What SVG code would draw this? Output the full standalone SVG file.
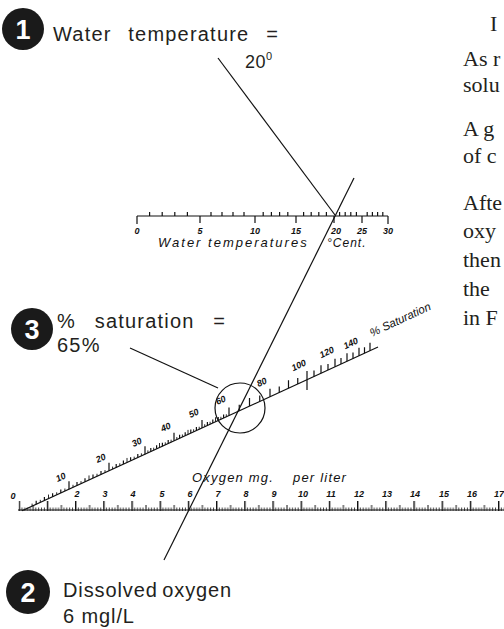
<svg xmlns="http://www.w3.org/2000/svg" width="504" height="629" viewBox="0 0 504 629">
<style>
.lbl{font-family:"Liberation Sans",Arial,sans-serif;font-size:20px;fill:#231f20;letter-spacing:1.2px;word-spacing:10px}
.num{font-family:"Liberation Sans",Arial,sans-serif;font-size:27px;font-weight:bold;fill:#fff;text-anchor:middle}
.badge{fill:#1a1a1a}
.hand{font-family:"Liberation Sans",Arial,sans-serif;font-style:italic;fill:#111}
.tk{font-family:"Liberation Sans",Arial,sans-serif;font-style:italic;font-weight:bold;font-size:9px;fill:#111;text-anchor:middle}
.ln{stroke:#111;fill:none;stroke-width:1.2}
.fine{stroke:#111;fill:none;stroke-width:0.9}
.body{font-family:"Liberation Serif","Times New Roman",serif;font-size:22px;fill:#231f20}
</style>
<defs>
<pattern id="oxt" patternUnits="userSpaceOnUse" x="18.6" y="500" width="28.2" height="11">
<rect x="0" y="1" width="1.4" height="10" fill="#111"/>
<rect x="14.1" y="5" width="1" height="6" fill="#111"/>
<rect x="2.82" y="7.5" width="0.8" height="3.5" fill="#111"/>
<rect x="5.64" y="7.5" width="0.8" height="3.5" fill="#111"/>
<rect x="8.46" y="7.5" width="0.8" height="3.5" fill="#111"/>
<rect x="11.28" y="7.5" width="0.8" height="3.5" fill="#111"/>
<rect x="16.92" y="7.5" width="0.8" height="3.5" fill="#111"/>
<rect x="19.74" y="7.5" width="0.8" height="3.5" fill="#111"/>
<rect x="22.56" y="7.5" width="0.8" height="3.5" fill="#111"/>
<rect x="25.38" y="7.5" width="0.8" height="3.5" fill="#111"/>
</pattern>
</defs>

<g id="badge1">
<circle class="badge" cx="23" cy="29" r="21"/>
<text class="num" x="23" y="39">1</text>
<text class="lbl" x="53" y="41">Water temperature =</text>
<text class="lbl" x="245" y="68" style="font-size:18px;letter-spacing:0.5px">20<tspan font-size="11" dy="-8">0</tspan></text>
</g>

<g id="badge3">
<circle class="badge" cx="32" cy="329" r="21"/>
<text class="num" x="32" y="339">3</text>
<text class="lbl" x="57" y="328" style="word-spacing:12px">% saturation =</text>
<text class="lbl" x="57" y="352">65%</text>
</g>

<g id="badge2">
<circle class="badge" cx="28" cy="592" r="22"/>
<text class="num" x="28" y="602">2</text>
<text class="lbl" x="63" y="597" style="letter-spacing:0.9px;word-spacing:-2px">Dissolved oxygen</text>
<text class="lbl" x="63" y="623" style="letter-spacing:0.9px;word-spacing:0">6 mgl/L</text>
</g>

<g id="temperature-scale">
<line class="ln" x1="137" y1="216" x2="388" y2="216" stroke-width="1.6"/>
<path class="ln" d="M149.6 216V212M162.2 216V212M174.8 216V212M187.4 216V212M211 216V212M222 216V212M233 216V212M244 216V212M263.2 216V212M271.4 216V212M279.6 216V212M287.8 216V212M303.6 216V212M311.2 216V212M318.8 216V212M326.4 216V212M339.6 216V212M345.2 216V212M350.8 216V212M356.4 216V212M367.2 216V212M372.4 216V212M377.6 216V212M382.8 216V212"/>
<path class="ln" d="M137 216V224M200 216V223M255 216V223M296 216V223M334 216V223M362 216V223M388 216V224"/>
<text class="tk" x="137" y="234">0</text>
<text class="tk" x="200" y="234">5</text>
<text class="tk" x="255" y="234">10</text>
<text class="tk" x="296" y="234">15</text>
<text class="tk" x="336" y="234">20</text>
<text class="tk" x="362" y="234">25</text>
<text class="tk" x="388" y="234">30</text>
<text class="hand" x="158" y="247" font-size="13" letter-spacing="2">Water temperatures</text>
<text class="hand" x="327" y="247" font-size="12" letter-spacing="1">°Cent.</text>
</g>

<g id="oxygen-scale">
<line class="ln" x1="18" y1="510" x2="504" y2="510" stroke-width="2"/>
<rect x="18.6" y="500" width="486" height="11" fill="url(#oxt)"/>
<text class="tk" x="13" y="499">0</text>
<text class="tk" x="77" y="497">2</text>
<text class="tk" x="105" y="497">3</text>
<text class="tk" x="133" y="497">4</text>
<text class="tk" x="162" y="497">5</text>
<text class="tk" x="190" y="497">6</text>
<text class="tk" x="218" y="497">7</text>
<text class="tk" x="246" y="497">8</text>
<text class="tk" x="274" y="497">9</text>
<text class="tk" x="303" y="497">10</text>
<text class="tk" x="331" y="497">11</text>
<text class="tk" x="359" y="497">12</text>
<text class="tk" x="387" y="497">13</text>
<text class="tk" x="415" y="497">14</text>
<text class="tk" x="444" y="497">15</text>
<text class="tk" x="472" y="497">16</text>
<text class="tk" x="499" y="497">17</text>
<text class="hand" x="192" y="482" font-size="13" letter-spacing="1.2">Oxygen mg.</text>
<text class="hand" x="293" y="482" font-size="13" letter-spacing="1.2">per liter</text>
</g>

<g id="saturation-scale">
<line class="ln" x1="22" y1="510.8" x2="378" y2="347" stroke-width="1.8"/>
<path class="fine" d="M32.1 506.11v-2.5M40.3 502.34v-2.5M48.5 498.57v-4M56.7 494.8v-2.5M64.9 491.03v-2.5M73 487.3v-2.5M81 483.6v-2.5M89 479.94v-4.5M97 476.26v-2.5M105 472.58v-2.5M112.6 469.08v-2.5M119.8 465.77v-2.5M127 462.46v-4.5M134.2 459.15v-2.5M141.4 455.84v-2.5M147.9 452.85v-2.5M153.7 450.18v-2.5M159.5 447.51v-4.5M165.3 444.84v-2.5M171.1 442.17v-2.5M176.8 439.55v-2.5M182.4 436.98v-2.5M188 434.4v-4.5M193.6 431.82v-2.5M199.2 429.25v-2.5M204.7 426.76v-2.5M210.1 424.23v-2.5M215.5 421.75v-4.5M220.9 419.27v-2.5M226.3 416.78v-2.5"/>
<path class="ln" d="M36.2 504.23v-3.5M44.4 500.46v-3.5M52.6 496.68v-3.5M60.8 492.91v-3.5M77 485.46v-3.5M85 481.78v-3.5M93 478.1v-3.5M101 474.42v-3.5M116.2 467.43v-3.5M123.4 464.12v-3.5M130.6 460.8v-3.5M137.8 457.49v-3.5M150.8 451.51v-3.5M156.6 448.84v-3.5M162.4 446.18v-3.5M168.2 443.51v-3.5M179.6 438.26v-3.5M185.2 435.69v-3.5M190.8 433.11v-3.5M196.4 430.54v-3.5M207.4 425.48v-3.5M212.8 422.99v-3.5M218.2 420.51v-3.5M223.6 418.02v-3.5"/>
<path class="ln" d="M239.25 410.83v-6M259.75 401.39v-6M279.25 392.42v-6M297.75 383.92v-6M314 376.44v-6M328 370v-6M341 364.02v-6M353 358.5v-6M364.5 353.21v-6"/>
<path class="ln" d="M69 489.14v-8M109 470.74v-8M145 454.18v-8M174 440.84v-8M202 427.96v-8M229 415.54v-8M249.5 406.11v-8M270 396.68v-8M288.5 388.17v-8M321 373.22v-8M335 366.78v-8M347 361.26v-8M359 355.74v-8M370 350.68v-8M307 371V390"/>
<text class="tk" x="62" y="480" transform="rotate(-25 62 480)">10</text>
<text class="tk" x="102" y="461" transform="rotate(-25 102 461)">20</text>
<text class="tk" x="138" y="445" transform="rotate(-25 138 445)">30</text>
<text class="tk" x="167" y="430" transform="rotate(-25 167 430)">40</text>
<text class="tk" x="195" y="416" transform="rotate(-25 195 416)">50</text>
<text class="tk" x="222" y="403" transform="rotate(-25 222 403)">60</text>
<text class="tk" x="263" y="385" transform="rotate(-25 263 385)">80</text>
<text class="tk" x="300" y="368" transform="rotate(-25 300 368)">100</text>
<text class="tk" x="328" y="355" transform="rotate(-25 328 355)">120</text>
<text class="tk" x="352" y="346" transform="rotate(-25 352 346)">140</text>
<text class="hand" x="372" y="337" font-size="11.5" transform="rotate(-25 372 337)">% Saturation</text>
</g>

<g id="connectors">
<line class="ln" x1="218" y1="58" x2="335" y2="215"/>
<line class="ln" x1="354" y1="178" x2="164" y2="560"/>
<line class="ln" x1="130" y1="348" x2="218" y2="388"/>
<circle class="ln" cx="240" cy="408" r="25"/>
</g>

<g id="page-text">
<text class="body" x="490" y="31">I</text>
<text class="body" x="463" y="66">As r</text>
<text class="body" x="463" y="92">solu</text>
<text class="body" x="463" y="136">A g</text>
<text class="body" x="463" y="163">of c</text>
<text class="body" x="463" y="210">Afte</text>
<text class="body" x="463" y="238">oxy</text>
<text class="body" x="463" y="267">then</text>
<text class="body" x="463" y="296">the</text>
<text class="body" x="463" y="325">in F</text>
</g>
</svg>
